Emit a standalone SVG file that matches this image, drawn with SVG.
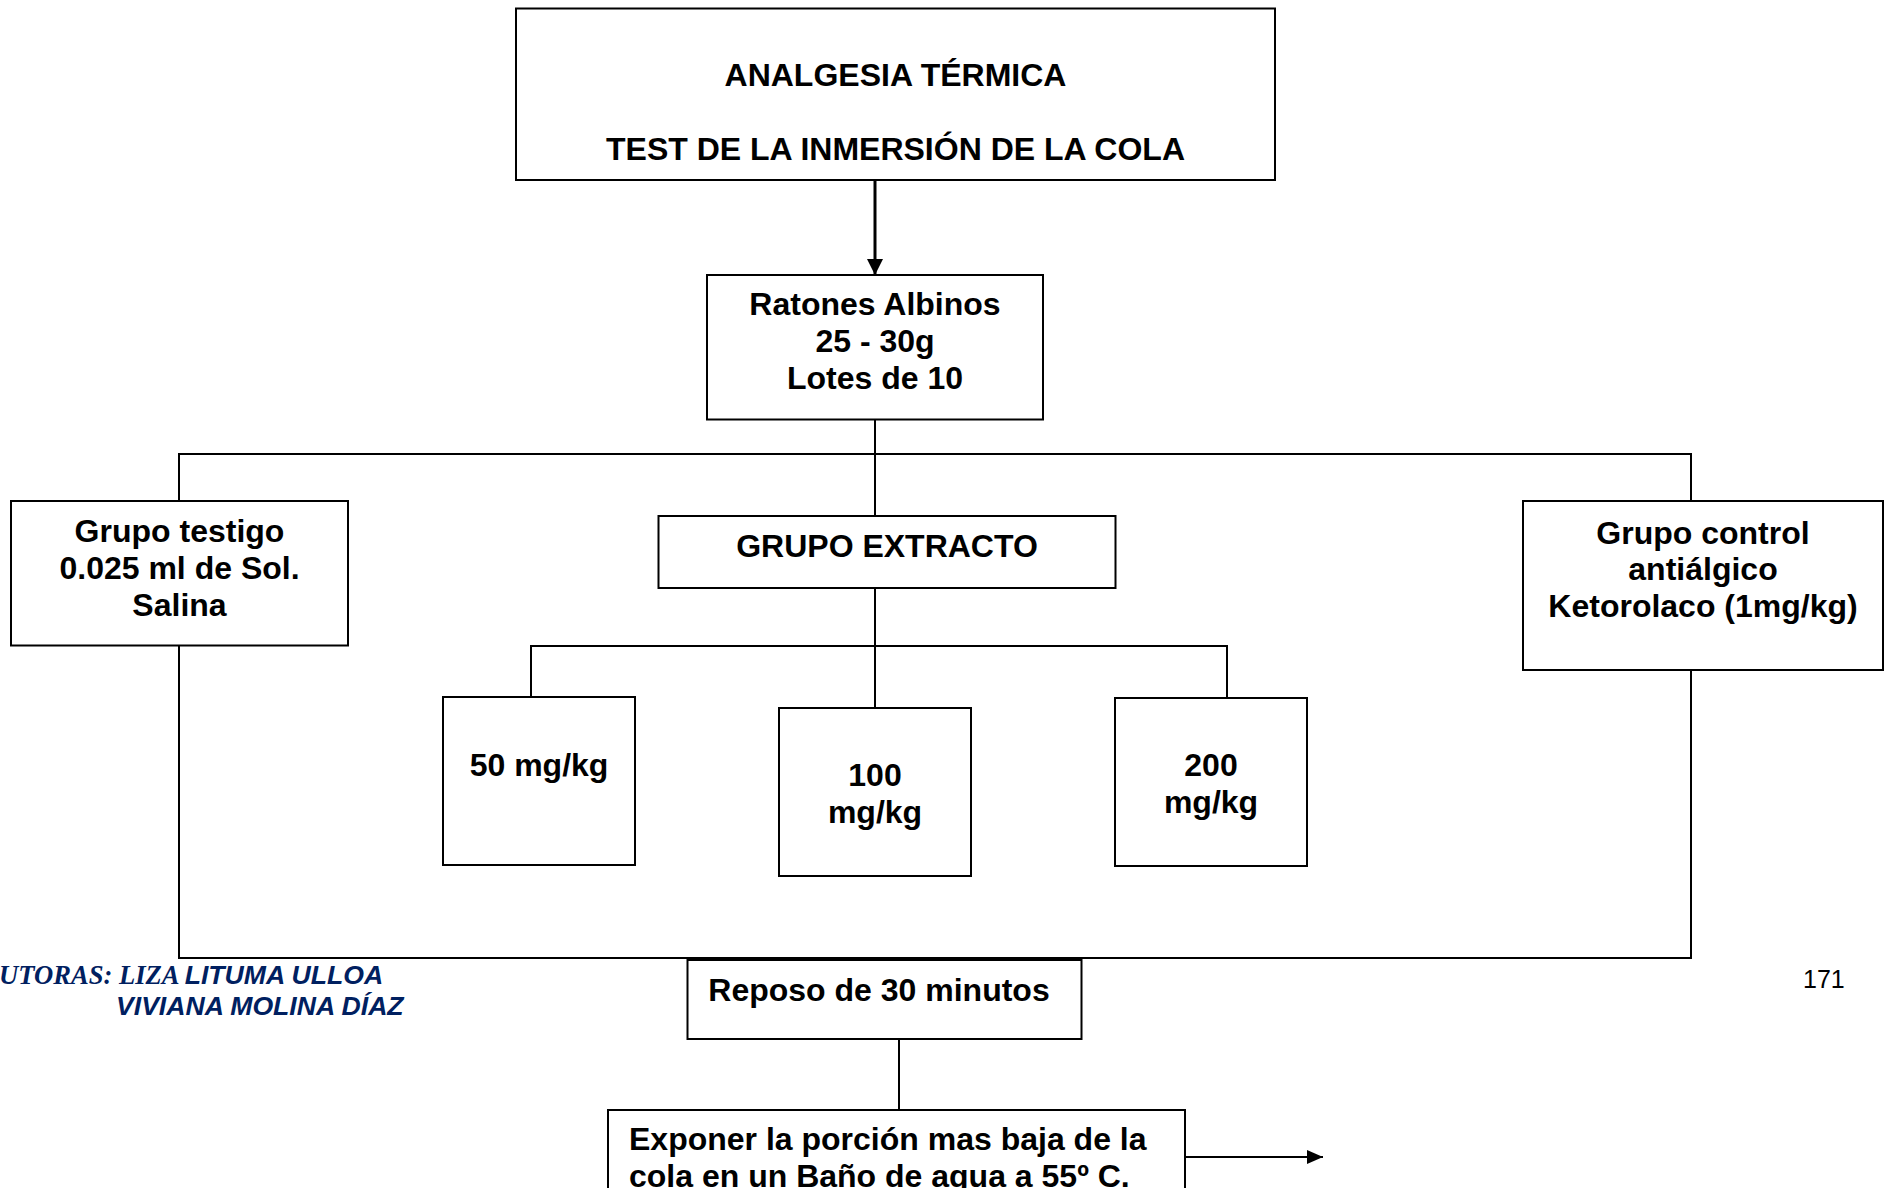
<svg xmlns="http://www.w3.org/2000/svg" width="1894" height="1188" viewBox="0 0 1894 1188">
  <defs>
    <style>
      .box { fill: #ffffff; stroke: #000000; stroke-width: 2; }
      .lbl { font-family: "Liberation Sans", Arial, sans-serif; font-weight: bold; font-size: 32px; fill: #000000; }
      .mid { text-anchor: middle; }
      .wire { fill: none; stroke: #000000; stroke-width: 2; }
      .wire-thick { fill: none; stroke: #000000; stroke-width: 3; }
      .author-serif { font-family: "Liberation Serif", "Times New Roman", serif; font-weight: bold; font-style: italic; font-size: 26.6px; fill: #002060; }
      .author-sans { font-family: "Liberation Sans", Arial, sans-serif; font-weight: bold; font-style: italic; font-size: 26.6px; fill: #002060; }
      .page { font-family: "Liberation Sans", Arial, sans-serif; font-size: 25px; fill: #000000; }
    </style>
    <marker id="head" viewBox="0 0 16 16" markerWidth="16" markerHeight="16" refX="16" refY="8" orient="auto" markerUnits="userSpaceOnUse">
      <path d="M0,0 L16,8 L0,16 Z" fill="#000000"/>
    </marker>
    <marker id="head-small" viewBox="0 0 16 14" markerWidth="16" markerHeight="14" refX="16" refY="7" orient="auto" markerUnits="userSpaceOnUse">
      <path d="M0,0 L16,7 L0,14 Z" fill="#000000"/>
    </marker>
  </defs>

  <rect width="1894" height="1188" fill="#ffffff"/>

  <!-- connectors -->
  <g id="connectors">
    <line class="wire-thick" x1="875" y1="180" x2="875" y2="275" marker-end="url(#head)"/>
    <line class="wire" x1="875" y1="420" x2="875" y2="516"/>
    <polyline class="wire" points="179,501 179,454 1691,454 1691,501"/>
    <line class="wire" x1="875" y1="588" x2="875" y2="708"/>
    <polyline class="wire" points="531,697 531,646 1227,646 1227,698"/>
    <polyline class="wire" points="179,646 179,958 1691,958 1691,670"/>
    <line class="wire" x1="899" y1="1039" x2="899" y2="1110"/>
    <line class="wire" x1="1179" y1="1157" x2="1323" y2="1157" marker-end="url(#head-small)"/>
  </g>

  <g id="title">
    <rect class="box" x="516" y="8.5" width="759" height="171.5"/>
    <text class="lbl mid" x="895.5" y="86">ANALGESIA TÉRMICA</text>
    <text class="lbl mid" x="895.5" y="160">TEST DE LA INMERSIÓN DE LA COLA</text>
  </g>

  <g id="ratones">
    <rect class="box" x="707" y="275" width="336" height="144.5"/>
    <text class="lbl mid" x="875" y="315">Ratones Albinos</text>
    <text class="lbl mid" x="875" y="352">25 - 30g</text>
    <text class="lbl mid" x="875" y="389">Lotes de 10</text>
  </g>

  <g id="grupo-testigo">
    <rect class="box" x="11" y="501" width="337" height="144.5"/>
    <text class="lbl mid" x="179.5" y="542">Grupo testigo</text>
    <text class="lbl mid" x="179.5" y="579">0.025 ml de Sol.</text>
    <text class="lbl mid" x="179.5" y="616">Salina</text>
  </g>

  <g id="grupo-extracto">
    <rect class="box" x="658.5" y="516" width="457" height="72"/>
    <text class="lbl mid" x="887" y="557">GRUPO EXTRACTO</text>
  </g>

  <g id="grupo-control">
    <rect class="box" x="1523" y="501" width="360" height="169"/>
    <text class="lbl mid" x="1703" y="544">Grupo control</text>
    <text class="lbl mid" x="1703" y="580">antiálgico</text>
    <text class="lbl mid" x="1703" y="617">Ketorolaco (1mg/kg)</text>
  </g>

  <g id="dosis-50">
    <rect class="box" x="443" y="697" width="192" height="168"/>
    <text class="lbl mid" x="539" y="776">50 mg/kg</text>
  </g>

  <g id="dosis-100">
    <rect class="box" x="779" y="708" width="192" height="168"/>
    <text class="lbl mid" x="875" y="786">100</text>
    <text class="lbl mid" x="875" y="823">mg/kg</text>
  </g>

  <g id="dosis-200">
    <rect class="box" x="1115" y="698" width="192" height="168"/>
    <text class="lbl mid" x="1211" y="776">200</text>
    <text class="lbl mid" x="1211" y="813">mg/kg</text>
  </g>

  <g id="reposo">
    <rect class="box" x="687.5" y="960" width="394" height="79"/>
    <text class="lbl mid" x="879" y="1001">Reposo de 30 minutos</text>
  </g>

  <g id="exponer">
    <rect class="box" x="608" y="1110" width="577" height="100"/>
    <text class="lbl" x="629" y="1150">Exponer la porción mas baja de la</text>
    <text class="lbl" x="629" y="1187">cola en un Baño de agua a 55º C.</text>
  </g>

  <!-- page footer -->
  <g id="footer">
    <text x="-1" y="984"><tspan class="author-serif">UTORAS: LIZA </tspan><tspan class="author-sans">LITUMA ULLOA</tspan></text>
    <text class="author-sans" x="116" y="1015">VIVIANA MOLINA DÍAZ</text>
    <text class="page" x="1803" y="988">171</text>
  </g>
</svg>
